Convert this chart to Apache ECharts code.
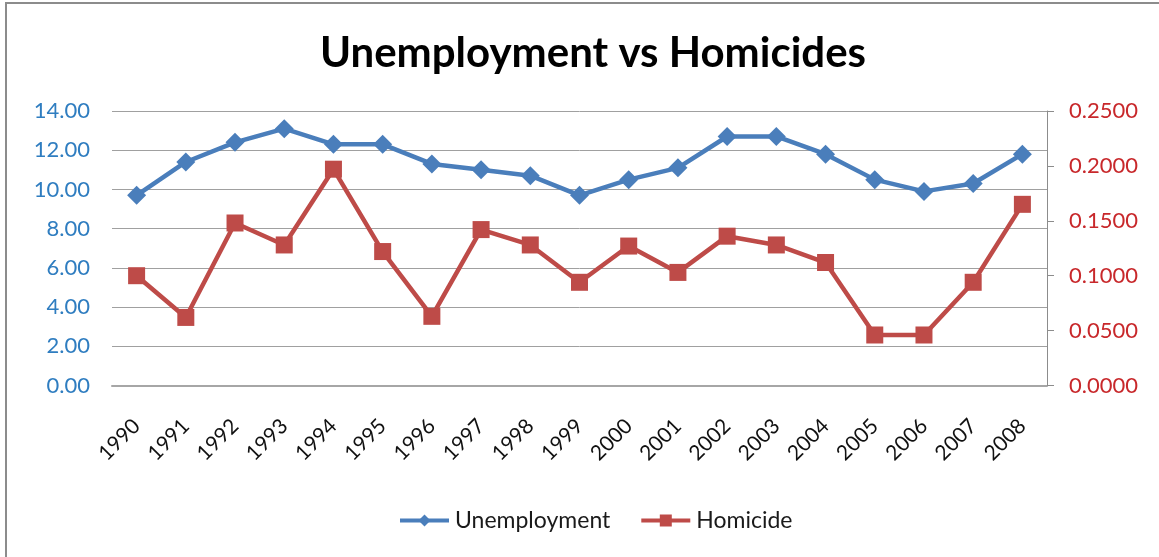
<!DOCTYPE html>
<html>
<head>
<meta charset="utf-8">
<script src="https://cdn.jsdelivr.net/npm/echarts@6/dist/echarts.min.js"></script>
<style>
  html, body { margin: 0; padding: 0; background: #fff; }
  #chart { width: 1159px; height: 557px; }
</style>
</head>
<body>
<div id="chart"></div>
<script>
// Years on the category axis
const years = ['1990','1991','1992','1993','1994','1995','1996','1997','1998','1999',
               '2000','2001','2002','2003','2004','2005','2006','2007','2008'];

// Unemployment rate (left axis)
const unemployment = [9.7, 11.4, 12.4, 13.1, 12.3, 12.3, 11.3, 11.0, 10.7, 9.7,
                      10.5, 11.1, 12.7, 12.7, 11.8, 10.5, 9.9, 10.3, 11.8];

// Homicide rate (right axis)
const homicide = [0.100, 0.062, 0.148, 0.128, 0.197, 0.122, 0.063, 0.142, 0.128, 0.094,
                  0.127, 0.103, 0.136, 0.128, 0.112, 0.046, 0.046, 0.094, 0.165];

const BLUE = '#4A7EBB';
const RED = '#BE4B48';
const FONT = 'Lato';

const chart = echarts.init(document.getElementById('chart'), null, { renderer: 'canvas' });

chart.setOption({
  backgroundColor: '#ffffff',
  animation: false,
  textStyle: { fontFamily: FONT },
  title: {
    text: 'Unemployment vs Homicides',
    left: 588,
    textAlign: 'center',
    top: 27,
    textStyle: { fontFamily: FONT, fontWeight: 'bold', fontSize: 42, color: '#000' }
  },
  graphic: [{
    type: 'rect',
    silent: true,
    shape: { x: 6, y: 3, width: 1200, height: 600 },
    style: { fill: 'none', stroke: '#8c8c8c', lineWidth: 2 }
  }],
  legend: {
    bottom: 20,
    left: 393,
    itemWidth: 49,
    itemHeight: 15,
    itemGap: 29,
    lineStyle: { width: 4 },
    textStyle: { fontFamily: FONT, fontSize: 23, color: '#1a1a1a', padding: [0, 0, 0, 1] },
    data: ['Unemployment', 'Homicide']
  },
  grid: { left: 112, right: 112, top: 111, bottom: 171.5, containLabel: false },
  xAxis: {
    type: 'category',
    data: years,
    boundaryGap: true,
    axisLine: { show: true, lineStyle: { color: '#a6a6a6', width: 2 } },
    axisTick: { show: false },
    axisLabel: {
      rotate: 45,
      interval: 0,
      margin: 37,
      fontFamily: FONT,
      fontSize: 21,
      color: '#111'
    }
  },
  yAxis: [{
    type: 'value',
    min: 0,
    max: 14,
    interval: 2,
    position: 'left',
    axisLine: { show: false },
    axisTick: { show: false },
    axisLabel: {
      margin: 22,
      fontFamily: FONT,
      fontSize: 22,
      color: '#2F7DC0',
      formatter: v => v.toFixed(2)
    },
    splitLine: { show: true, lineStyle: { color: '#a0a0a0', width: 1 } }
  }, {
    type: 'value',
    min: 0,
    max: 0.25,
    interval: 0.05,
    position: 'right',
    axisLine: { show: true, lineStyle: { color: '#8c8c8c', width: 1 } },
    axisTick: { show: true, length: 7, lineStyle: { color: '#8c8c8c' } },
    axisLabel: {
      margin: 22,
      fontFamily: FONT,
      fontSize: 22,
      color: '#C8282B',
      formatter: v => v.toFixed(4)
    },
    splitLine: { show: false }
  }],
  series: [{
    name: 'Unemployment',
    type: 'line',
    yAxisIndex: 0,
    data: unemployment,
    symbol: 'diamond',
    symbolSize: 19,
    lineStyle: { color: BLUE, width: 4.5 },
    itemStyle: { color: BLUE },
    z: 3
  }, {
    name: 'Homicide',
    type: 'line',
    yAxisIndex: 1,
    data: homicide,
    symbol: 'rect',
    symbolSize: 17,
    lineStyle: { color: RED, width: 4.5 },
    itemStyle: { color: RED },
    z: 2
  }]
});
</script>
</body>
</html>
